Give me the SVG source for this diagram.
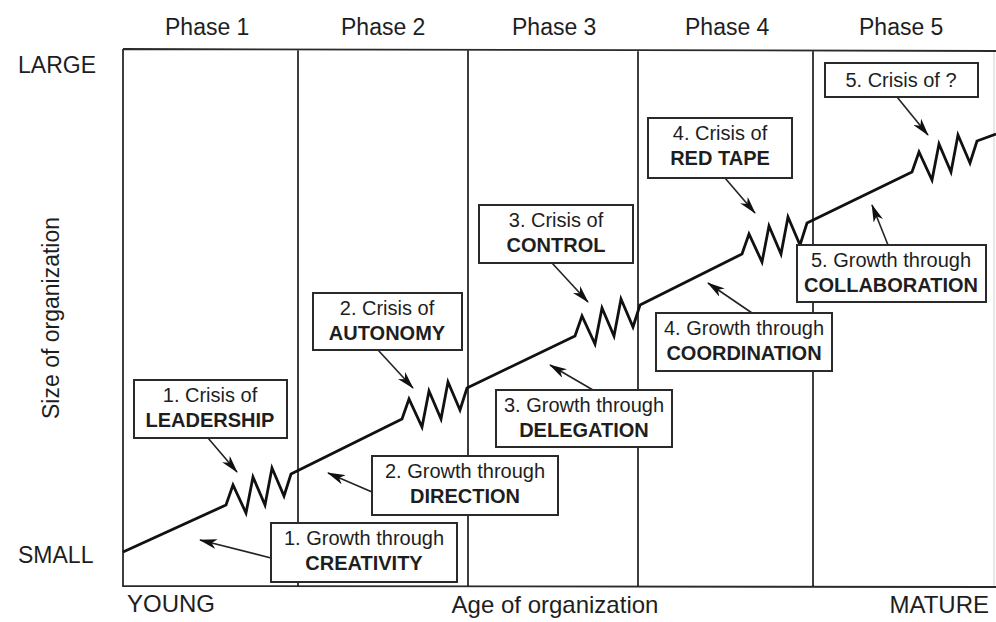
<svg xmlns="http://www.w3.org/2000/svg" width="996" height="622" viewBox="0 0 996 622">
<style>
  text { font-family: "Liberation Sans", Arial, sans-serif; fill: #1e1e1e; }
  .lbl { font-size: 23px; }
  .ax { font-size: 24px; }
  .bx { font-size: 20px; text-anchor: middle; }
  .bd { font-weight: bold; }
  .box { fill: #ffffff; stroke: #2a2a2a; stroke-width: 2; }
  .grid { fill: none; stroke: #2a2a2a; stroke-width: 1.8; }
  .curve { fill: none; stroke: #111; stroke-width: 2.8; stroke-linejoin: miter; }
  .arr { fill: none; stroke: #222; stroke-width: 1.6; marker-end: url(#ah); }
</style>
<defs>
  <marker id="ah" viewBox="0 0 18 10" refX="17" refY="5" markerWidth="18" markerHeight="10" markerUnits="userSpaceOnUse" orient="auto">
    <path d="M0,0 L18,5 L0,10 L5,5 Z" fill="#111"/>
  </marker>
</defs>
<rect width="996" height="622" fill="#ffffff"/>

<g id="frame">
  <path class="grid" d="M123,49 L996,51 M123,49 L123,586 L996,587 M298,49 L298,586 M468,50 L468,586 M638,50 L638,587 M813,51 L813,587"/>
  <path d="M994,52 L994,586" stroke="#cfcfcf" stroke-width="1" fill="none"/>
</g>

<g id="labels">
  <text class="lbl" x="165" y="35">Phase 1</text>
  <text class="lbl" x="341" y="35">Phase 2</text>
  <text class="lbl" x="512" y="35">Phase 3</text>
  <text class="lbl" x="685" y="35">Phase 4</text>
  <text class="lbl" x="859" y="35">Phase 5</text>
  <text class="lbl" x="18" y="73">LARGE</text>
  <text class="lbl" x="18" y="563">SMALL</text>
  <text class="lbl" x="0" y="0" text-anchor="middle" transform="translate(59,318) rotate(-90)">Size of organization</text>
  <text class="ax" x="127" y="612">YOUNG</text>
  <text class="ax" x="555" y="613" text-anchor="middle">Age of organization</text>
  <text class="ax" x="989" y="613" text-anchor="end">MATURE</text>
</g>

<g id="growth-curve">
  <path class="curve" d="M123,552 L226,505 l7,-20 l13,28 l7,-36 l12,28 l7,-37 l12,28 l7,-22 L402,419 l7,-20 l13,28 l7,-36 l12,28 l7,-37 l12,28 l7,-22 L575,336 l7,-20 l13,28 l7,-36 l12,28 l7,-37 l12,28 l7,-22 L742,254 l7,-20 l13,28 l7,-36 l12,28 l7,-37 l12,28 l7,-22 L912,172 l7,-20 l13,28 l7,-36 l12,28 l7,-37 l12,28 l7,-22 L996,134"/>
</g>

<g id="connectors">
  <path class="arr" d="M208,438 L237,472"/>
  <path class="arr" d="M378,350 L413,388"/>
  <path class="arr" d="M552,263 L588,302"/>
  <path class="arr" d="M725,178 L755,213"/>
  <path class="arr" d="M897,97 L928,135"/>
  <path class="arr" d="M271,558 L200,540"/>
  <path class="arr" d="M372,492 L328,473"/>
  <path class="arr" d="M593,390 L550,365"/>
  <path class="arr" d="M752,313 L708,283"/>
  <path class="arr" d="M888,245 L872,205"/>
</g>

<g id="crisis1">
  <rect class="box" x="134" y="380" width="153" height="58"/>
  <text class="bx" x="210" y="402">1. Crisis of</text>
  <text class="bx bd" x="210" y="427">LEADERSHIP</text>
</g>
<g id="crisis2">
  <rect class="box" x="313" y="293" width="149" height="57"/>
  <text class="bx" x="387" y="315">2. Crisis of</text>
  <text class="bx bd" x="387" y="340">AUTONOMY</text>
</g>
<g id="crisis3">
  <rect class="box" x="479" y="205" width="154" height="58"/>
  <text class="bx" x="556" y="227">3. Crisis of</text>
  <text class="bx bd" x="556" y="252">CONTROL</text>
</g>
<g id="crisis4">
  <rect class="box" x="648" y="118" width="144" height="60"/>
  <text class="bx" x="720" y="140">4. Crisis of</text>
  <text class="bx bd" x="720" y="165">RED TAPE</text>
</g>
<g id="crisis5">
  <rect class="box" x="825" y="63" width="153" height="34"/>
  <text class="bx" x="901" y="87">5. Crisis of ?</text>
</g>

<g id="growth1">
  <rect class="box" x="271" y="523" width="186" height="59"/>
  <text class="bx" x="364" y="545">1. Growth through</text>
  <text class="bx bd" x="364" y="570">CREATIVITY</text>
</g>
<g id="growth2">
  <rect class="box" x="372" y="456" width="186" height="59"/>
  <text class="bx" x="465" y="478">2. Growth through</text>
  <text class="bx bd" x="465" y="503">DIRECTION</text>
</g>
<g id="growth3">
  <rect class="box" x="496" y="390" width="176" height="57"/>
  <text class="bx" x="584" y="412">3. Growth through</text>
  <text class="bx bd" x="584" y="437">DELEGATION</text>
</g>
<g id="growth4">
  <rect class="box" x="656" y="313" width="176" height="58"/>
  <text class="bx" x="744" y="335">4. Growth through</text>
  <text class="bx bd" x="744" y="360">COORDINATION</text>
</g>
<g id="growth5">
  <rect class="box" x="797" y="245" width="189" height="57"/>
  <text class="bx" x="891" y="267">5. Growth through</text>
  <text class="bx bd" x="891" y="292">COLLABORATION</text>
</g>
</svg>
